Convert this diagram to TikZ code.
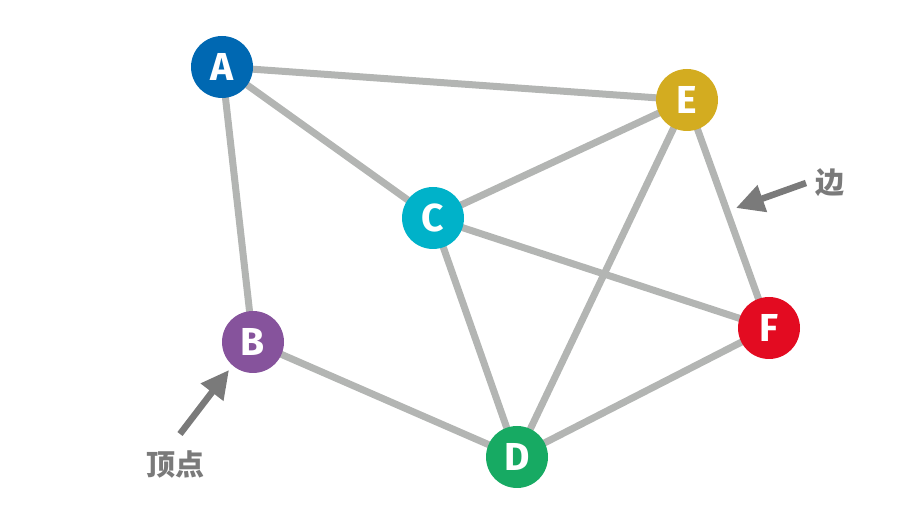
\documentclass[tikz,border=0pt]{standalone}
\usepackage{fontspec}
\setmainfont{Fira Sans}
\newfontfamily\cjk{Noto Sans CJK SC}
\usetikzlibrary{arrows.meta}
\definecolor{edgegray}{HTML}{B3B5B3}
\definecolor{arrowgray}{HTML}{7A7A7A}
\definecolor{cA}{HTML}{0068B2}
\definecolor{cB}{HTML}{86539C}
\definecolor{cC}{HTML}{00B2C9}
\definecolor{cD}{HTML}{17AA63}
\definecolor{cE}{HTML}{D3AC20}
\definecolor{cF}{HTML}{E30B21}
\begin{document}
\begin{tikzpicture}[x=1pt,y=-1pt,
  vertex/.style={circle,minimum size=62pt,inner sep=0pt,text=white,font=\fontsize{39}{39}\selectfont\bfseries},
  edge/.style={draw=edgegray,line width=7pt},
  pointer/.style={draw=arrowgray,line width=6.5pt,-{Triangle[length=28pt,width=27pt]}},
  lab/.style={text=arrowgray,font=\cjk\bfseries\fontsize{29}{29}\selectfont}]
\useasboundingbox (0,0) rectangle (922,518);
\coordinate (pA) at (222,67);
\coordinate (pB) at (253,342);
\coordinate (pC) at (433,218);
\coordinate (pD) at (517,457);
\coordinate (pE) at (687,100);
\coordinate (pF) at (769,328);
\draw[edge] (pA) -- (pE);
\draw[edge] (pA) -- (pC);
\draw[edge] (pA) -- (pB);
\draw[edge] (pE) -- (pC);
\draw[edge] (pE) -- (pD);
\draw[edge] (pE) -- (pF);
\draw[edge] (pC) -- (pF);
\draw[edge] (pC) -- (pD);
\draw[edge] (pB) -- (pD);
\draw[edge] (pD) -- (pF);
\node[vertex,fill=cA] (A) at (pA) {A};
\node[vertex,fill=cB] (B) at (pB) {B};
\node[vertex,fill=cC] (C) at (pC) {C};
\node[vertex,fill=cD] (D) at (pD) {D};
\node[vertex,fill=cE] (E) at (pE) {E};
\node[vertex,fill=cF] (F) at (pF) {F};
\node[lab] (edgelab) at (830,183) {边};
\node[lab] (vertlab) at (175,465) {顶点};
\coordinate (t1) at (806,183);
\coordinate (h1) at (736,208);
\coordinate (t2) at (180,434);
\coordinate (h2) at (229,370);
\draw[pointer] (t1) -- (h1);
\draw[pointer] (t2) -- (h2);
\end{tikzpicture}
\end{document}
